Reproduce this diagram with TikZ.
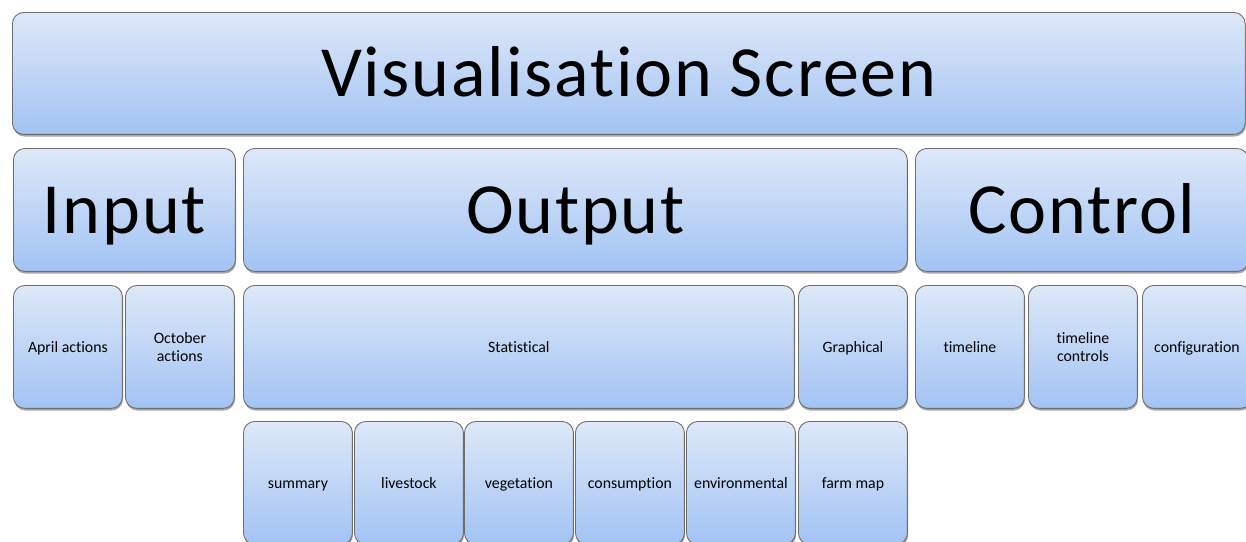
\documentclass[tikz,border=0pt]{standalone}
\usepackage{fontspec}
\setmainfont{Carlito}[Ligatures=CommonOff]
\newfontfamily\bigfont[LetterSpace=2.5,Ligatures=CommonOff]{Carlito}
\usepackage{tikz}
\usetikzlibrary{shadows}

\definecolor{boxtop}{HTML}{DEE8F8}
\definecolor{boxbot}{HTML}{A2C3F4}
\definecolor{boxline}{HTML}{6E6E6E}

\begin{document}
\begin{tikzpicture}[
  x=0.02cm,y=-0.02cm,
  blk/.style={draw=boxline,line width=0.5pt,rounded corners=6.5pt,top color=boxtop,bottom color=boxbot,
    anchor=north west,inner sep=0pt,align=center,
    drop shadow={shadow xshift=0.4pt,shadow yshift=-1.2pt,opacity=0.35,fill=black}},
  big/.style={blk,minimum height=2.46cm,text height=26.4pt,text depth=0pt,
    font=\bigfont\fontsize{41}{45}\selectfont},
  cell/.style={blk,minimum width=2.18cm,minimum height=2.46cm,font=\fontsize{9}{10.5}\selectfont},
  small/.style={cell,text height=5.9pt,text depth=0pt}
]
\clip (0,0) rectangle (1246,541);

% top level
\node[big,minimum width=24.66cm,minimum height=2.44cm] (screen) at (12,12) {Visualisation Screen};

% second level
\node[big,minimum width=4.44cm] (input) at (13,148) {Input};
\node[big,minimum width=13.28cm] (output) at (243,148) {Output};
\node[big,minimum width=6.66cm] (control) at (915,148) {Control};

% third level
\node[small] (april) at (13,285) {April actions};
\node[cell] (october) at (125,285) {October\\actions};
\node[small,minimum width=11.02cm] (stat) at (243,285) {Statistical};
\node[small] (graph) at (798,285) {Graphical};
\node[small] (timeline) at (915,285) {timeline};
\node[cell] (tlctrl) at (1028,285) {timeline\\controls};
\node[small] (config) at (1142,285) {configuration};

% fourth level
\node[small] (summary) at (243,421) {summary};
\node[small] (livestock) at (354,421) {livestock};
\node[small] (vegetation) at (464,421) {vegetation};
\node[small] (consumption) at (575,421) {consumption};
\node[small] (environ) at (686,421) {environmental};
\node[small] (farmmap) at (798,421) {farm map};
\end{tikzpicture}
\end{document}
